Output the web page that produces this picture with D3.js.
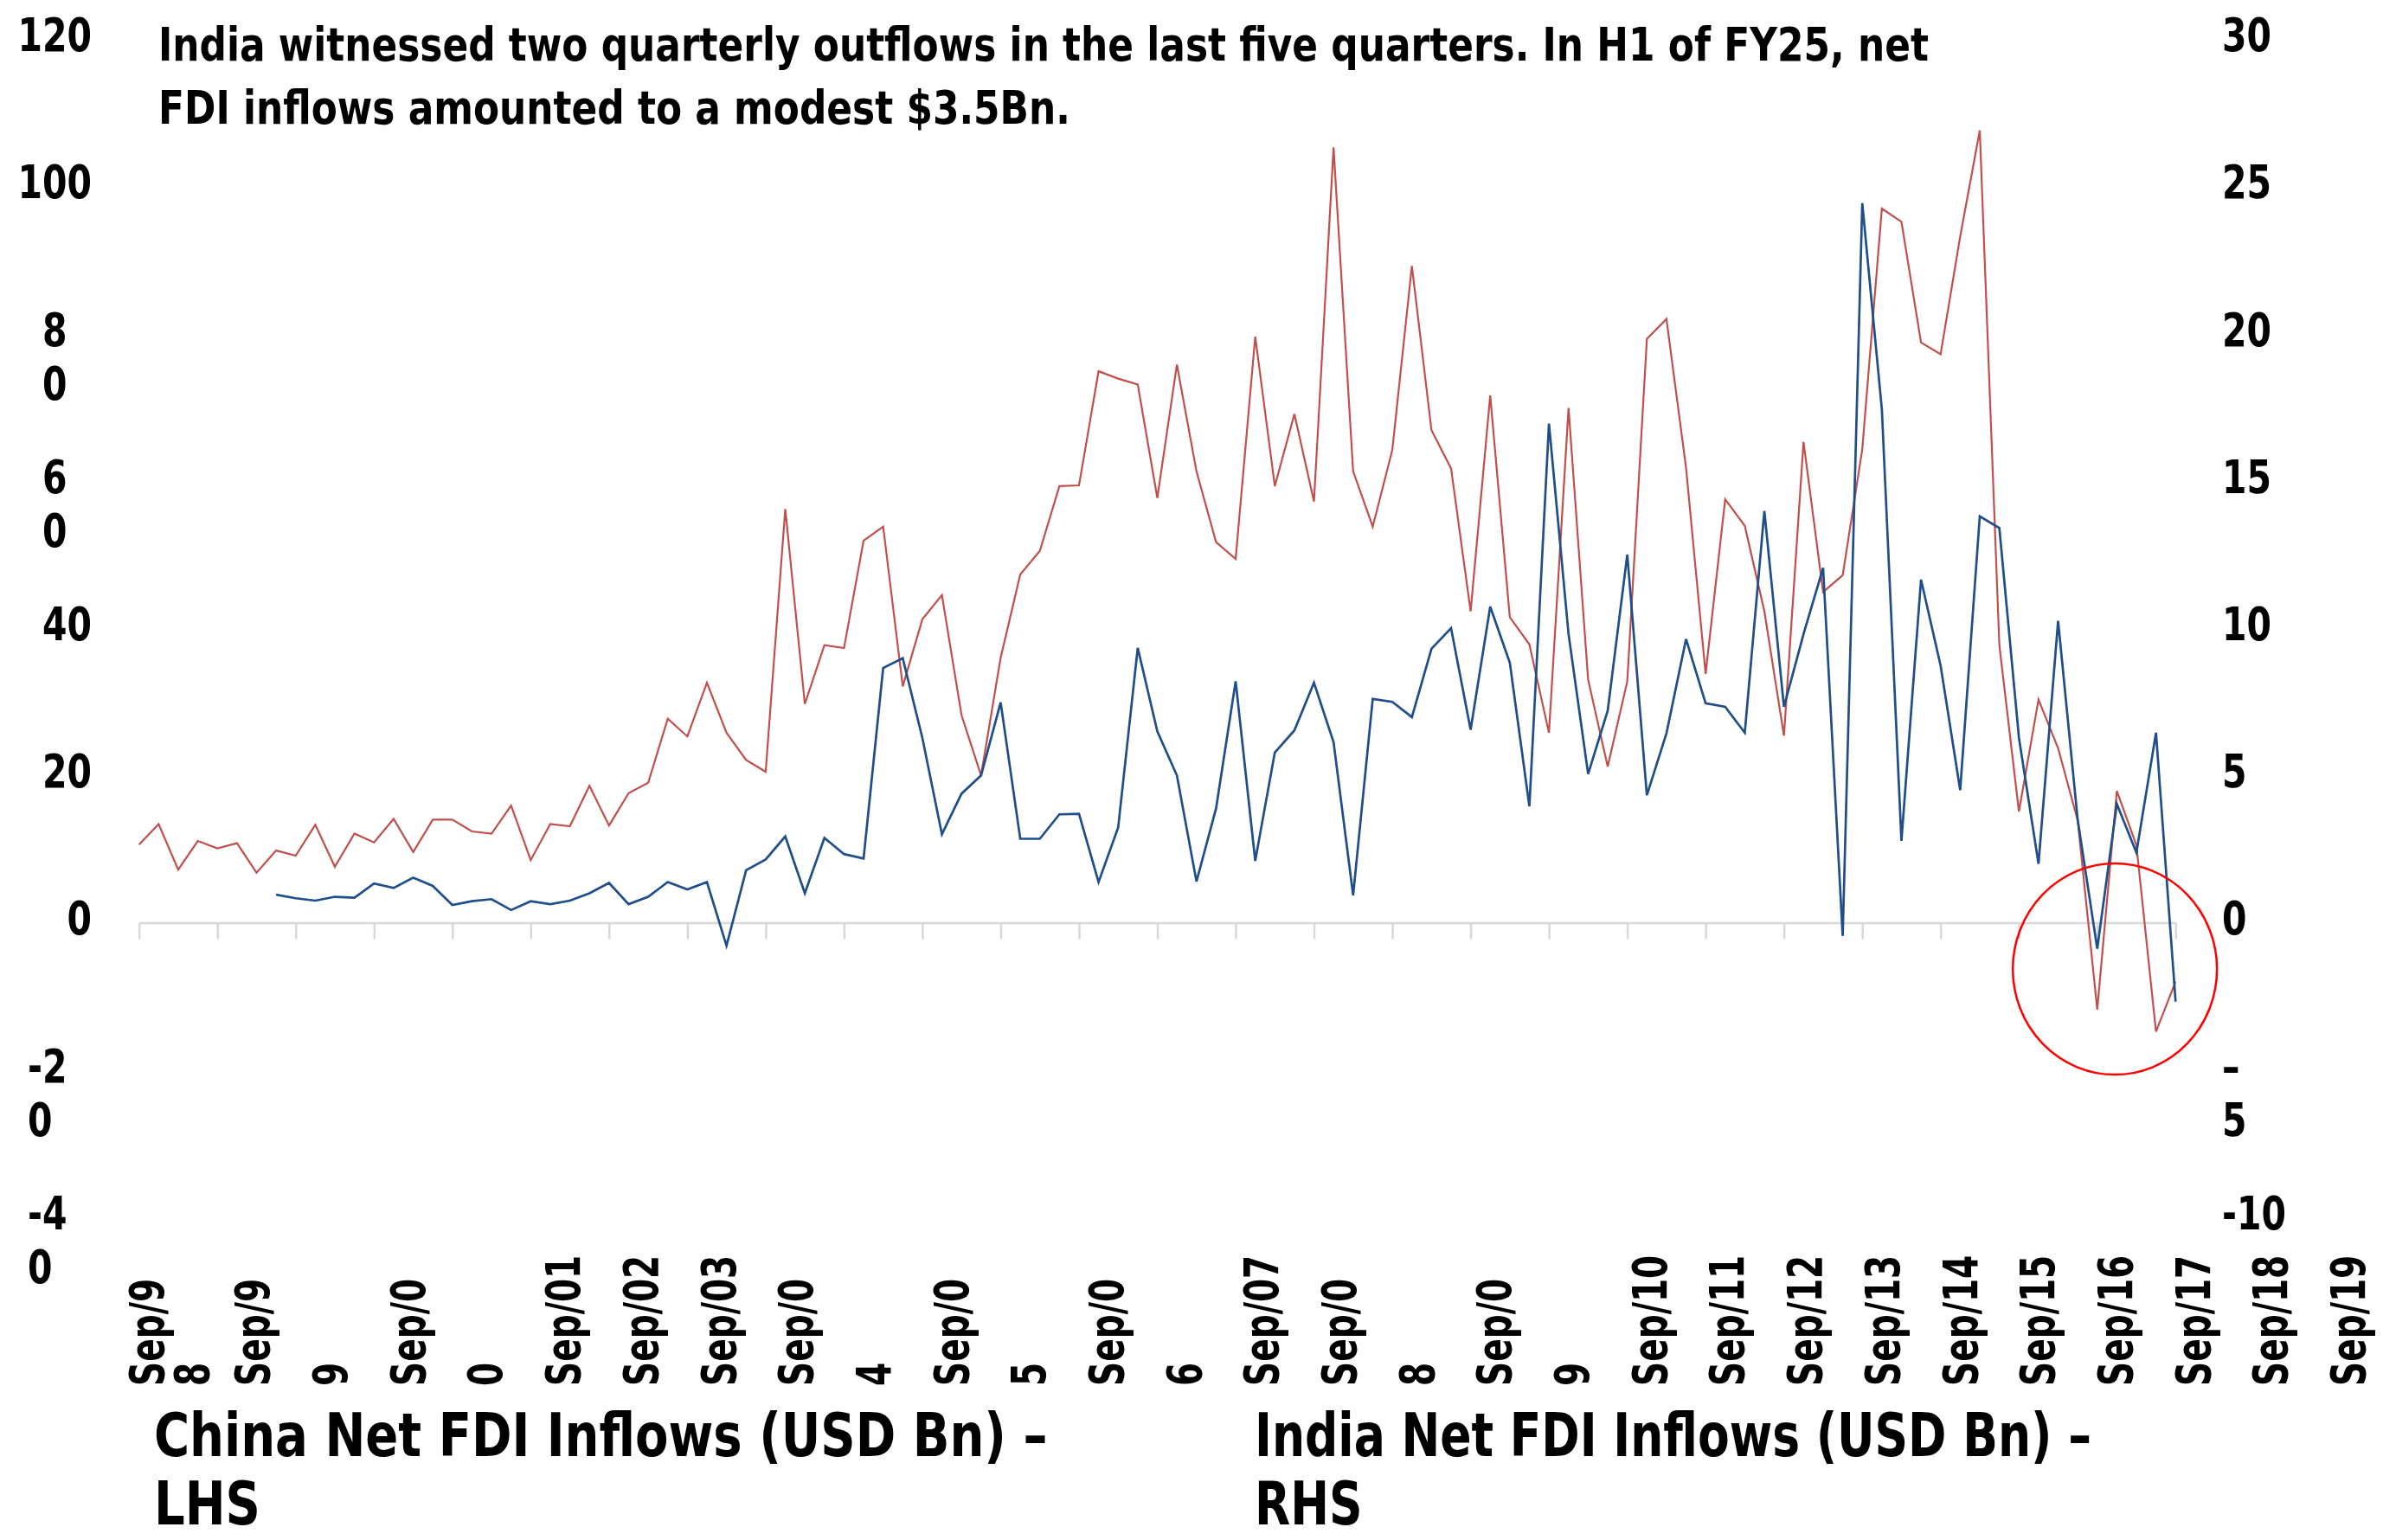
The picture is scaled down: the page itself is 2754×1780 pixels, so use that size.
<!DOCTYPE html>
<html>
<head>
<meta charset="utf-8">
<script src="https://cdn.jsdelivr.net/npm/d3@7"></script>
<style>
  body { margin: 0; background: #fff; }
  text { font-family: 'Liberation Sans Narrow', 'DejaVu Sans Condensed', sans-serif; font-weight: bold; fill: #000; }
</style>
</head>
<body>
<svg id="chart" width="2754" height="1780"></svg>
<script>
// quarterly net FDI, Sep/98 .. Sep/24
const chinaFDI = [
  10.6, 13.4, 7.2, 11.1, 10.1, 10.8, 6.8, 9.8, 9.1, 13.3,
  7.6, 12.1, 10.9, 14.1, 9.6, 14.0, 14.0, 12.4, 12.1, 15.9,
  8.5, 13.4, 13.1, 18.6, 13.2, 17.6, 19.0, 27.7, 25.3, 32.6,
  25.8, 22.1, 20.5, 56.2, 29.7, 37.7, 37.3, 51.9, 53.8, 32.1,
  41.2, 44.5, 28.2, 20.0, 36.0, 47.3, 50.5, 59.3, 59.4, 74.9,
  73.9, 73.1, 57.7, 75.8, 61.3, 51.7, 49.4, 79.6, 59.3, 69.1,
  57.2, 105.3, 61.3, 53.8, 64.2, 89.2, 66.9, 61.7, 42.3, 71.6,
  41.5, 37.8, 25.8, 69.9, 33.0, 21.2, 32.8, 79.3, 82.0, 61.8,
  33.8, 57.5, 53.9, 42.3, 25.4, 65.3, 44.9, 47.2, 64.3, 97.0,
  95.2, 78.8, 77.2, 93.2, 107.6, 37.7, 15.1, 30.3, 23.7, 13.9,
  -11.8, 17.9, 10.5, -14.8, -8.0
];

const indiaFDI = [
  null, null, null, null, null, null, null, 0.95, 0.83, 0.75,
  0.88, 0.85, 1.33, 1.18, 1.53, 1.25, 0.6, 0.73, 0.8, 0.43,
  0.73, 0.63, 0.75, 1.0, 1.35, 0.63, 0.88, 1.38, 1.13, 1.38,
  -0.78, 1.78, 2.15, 2.93, 1.0, 2.88, 2.33, 2.18, 8.65, 8.98,
  6.28, 3.0, 4.38, 5.0, 7.48, 2.85, 2.85, 3.68, 3.7, 1.38,
  3.23, 9.33, 6.5, 5.0, 1.4, 3.88, 8.2, 2.1, 5.78, 6.53,
  8.15, 6.13, 0.93, 7.6, 7.5, 6.98, 9.3, 10.0, 6.55, 10.73,
  8.83, 3.95, 16.95, 9.8, 5.05, 7.2, 12.5, 4.33, 6.43, 9.63,
  7.45, 7.33, 6.45, 13.98, 7.33, 9.8, 12.05, -0.45, 24.43, 17.43,
  2.78, 11.65, 8.73, 4.5, 13.8, 13.4, 6.28, 2.0, 10.25, 3.5,
  -0.88, 4.03, 2.38, 6.45, -2.68
];

// "|" marks where the label wraps onto the next line
const xLabels = ["Sep/9|8", "Sep/9|9", "Sep/0|0", "Sep/01", "Sep/02", "Sep/03",
  "Sep/0|4", "Sep/0|5", "Sep/0|6", "Sep/07", "Sep/0|8", "Sep/0|9",
  "Sep/10", "Sep/11", "Sep/12", "Sep/13", "Sep/14", "Sep/15", "Sep/16",
  "Sep/17", "Sep/18", "Sep/19"];

const leftTicks = [120, 100, 80, 60, 40, 20, 0, -20, -40];
const leftTickText = ["120", "100", "8|0", "6|0", "40", "20", "0", "-2|0", "-4|0"];
const rightTicks = [30, 25, 20, 15, 10, 5, 0, -5, -10];
const rightTickText = ["30", "25", "20", "15", "10", "5", "0", "\u2013|5", "-10"];

const titleLines = [
  "India witnessed two quarterly outflows in the last five quarters. In H1 of FY25, net",
  "FDI inflows amounted to a modest $3.5Bn."
];
const legendChina = ["China Net FDI Inflows (USD Bn) \u2013", "LHS"];
const legendIndia = ["India Net FDI Inflows (USD Bn) \u2013", "RHS"];

const svg = d3.select("#chart");
svg.append("rect").attr("width", 2754).attr("height", 1780).attr("fill", "#fff");

const x = d3.scaleLinear().domain([0, chinaFDI.length - 1]).range([160.7, 2514.3]);
const yL = d3.scaleLinear().domain([-40, 120]).range([1406.9, 45.3]);
const yR = d3.scaleLinear().domain([-10, 30]).range([1406.9, 45.3]);

// the original font is narrower than the condensed one we have, so squeeze it
const AXIS_FS = 53;
const AXIS_SX = 0.86;

// writes a (possibly multi-line) text block squeezed horizontally by sx
function block(fs, sx, tx, lines, y0, dy, anchor) {
  const t = svg.append("text")
    .attr("font-size", fs)
    .attr("text-anchor", anchor || "start")
    .attr("transform", `translate(${tx},0) scale(${sx},1)`);
  t.selectAll("tspan")
    .data(lines)
    .join("tspan")
    .attr("x", 0)
    .attr("y", (d, i) => y0 + i * dy)
    .text(d => d);
  return t;
}

// category axis on the zero line
const xAxis = d3.axisBottom(x)
  .tickValues(d3.range(0, chinaFDI.length, 4))
  .tickFormat("")
  .tickSizeInner(19)
  .tickSizeOuter(0);

svg.append("g")
  .attr("transform", `translate(0,${yL(0)})`)
  .call(xAxis)
  .call(g => {
    g.select(".domain").attr("stroke", "#D9D9D9").attr("stroke-width", 2.5);
    g.selectAll(".tick line").attr("stroke", "#D9D9D9").attr("stroke-width", 2.5);
  });

// series
const lineChina = d3.line()
  .x((d, i) => x(i))
  .y(d => yL(d));

const lineIndia = d3.line()
  .defined(d => d !== null)
  .x((d, i) => x(i))
  .y(d => yR(d));

svg.append("path")
  .datum(chinaFDI)
  .attr("d", lineChina)
  .attr("fill", "none")
  .attr("stroke", "#C0504D")
  .attr("stroke-width", 2.2)
  .attr("stroke-linejoin", "miter");

svg.append("path")
  .datum(indiaFDI)
  .attr("d", lineIndia)
  .attr("fill", "none")
  .attr("stroke", "#1F4E8A")
  .attr("stroke-width", 2.7)
  .attr("stroke-linejoin", "miter");

// highlight of the recent outflows
svg.append("ellipse")
  .attr("cx", x(100.9))
  .attr("cy", yL(-6.3))
  .attr("rx", 118)
  .attr("ry", 122)
  .attr("fill", "none")
  .attr("stroke", "#FF0000")
  .attr("stroke-width", 2.5);

// left axis labels: right aligned, wrapped ones start where the full label would
leftTicks.forEach((v, i) => {
  const parts = leftTickText[i].split("|");
  if (parts.length === 1) {
    block(AXIS_FS, AXIS_SX, 106, parts, yL(v) + 14, 62, "end");
  } else {
    const probe = svg.append("text").attr("font-size", AXIS_FS).text(parts.join(""));
    const w = probe.node().getComputedTextLength() * AXIS_SX;
    probe.remove();
    block(AXIS_FS, AXIS_SX, 106 - w, parts, yL(v) + 14, 62);
  }
});

// right axis labels
rightTicks.forEach((v, i) => {
  block(AXIS_FS, AXIS_SX, 2568, rightTickText[i].split("|"), yR(v) + 14, 62);
});

// rotated category labels, wrapped lines take the next slot
const slot = d3.scaleLinear().domain([0, 29]).range([132, 2733]);
const minGap = 52;
let col = 0;
let prev = x(0) - 12 + 40 - minGap;
xLabels.forEach(lab => {
  lab.split("|").forEach(p => {
    const bx = Math.max(slot(col), prev + minGap);
    svg.append("text")
      .attr("transform", `translate(${bx},1602) rotate(-90) scale(0.79,1)`)
      .attr("font-size", 55)
      .text(p);
    prev = bx;
    col++;
  });
});

// title
block(AXIS_FS, 0.92, 183, titleLines, 70, 73);

// legend text
block(70, 0.89, 178, legendChina, 1683, 79);
block(70, 0.85, 1450, legendIndia, 1683, 79);
</script>
</body>
</html>
